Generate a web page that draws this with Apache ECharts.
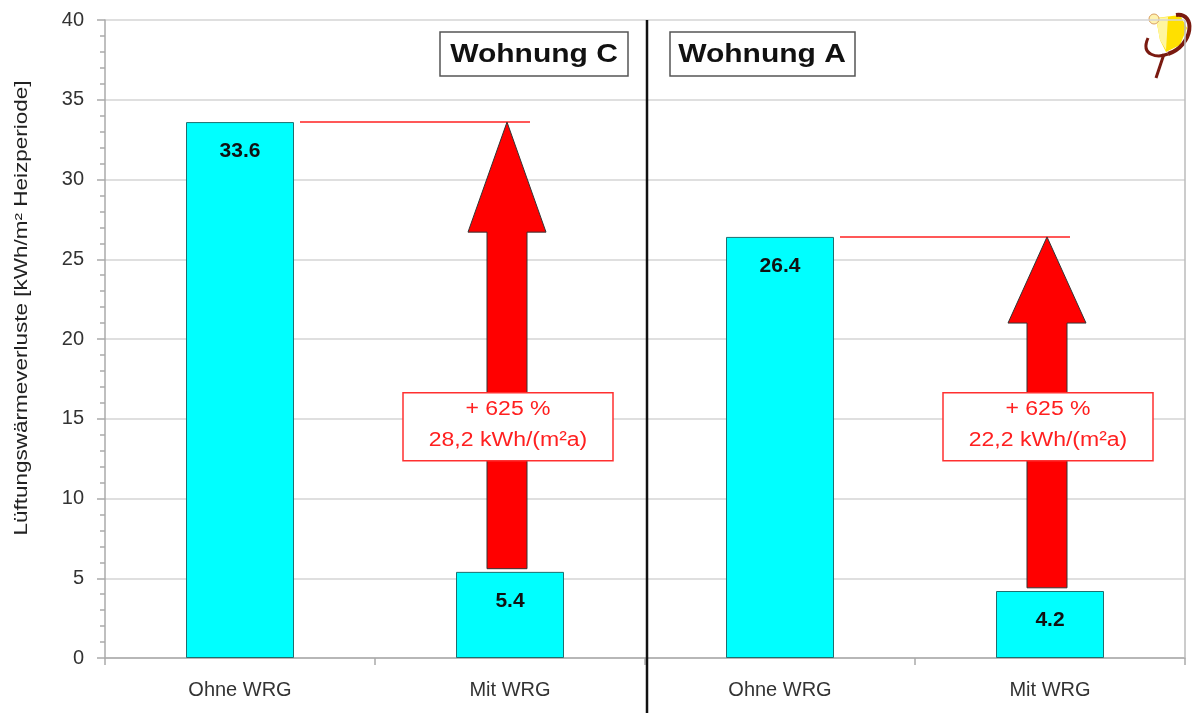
<!DOCTYPE html>
<html>
<head>
<meta charset="utf-8">
<script src="https://cdn.jsdelivr.net/npm/echarts@6/dist/echarts.min.js"></script>
<style>
  html, body { margin: 0; padding: 0; background: #fff; }
  #main { width: 1193px; height: 713px; }
</style>
</head>
<body>
<div id="main"></div>
<script>
// Daten
var categories = ['Ohne WRG', 'Mit WRG', 'Ohne WRG', 'Mit WRG'];
var losses = [33.6, 5.4, 26.4, 4.2];

// Pfeile (Kategorie, Fuss, Ansatz Spitze, Spitze)
var arrowCat = [1, 3];
var arrowBottom = [5.6, 4.4];
var arrowHeadBase = [26.7, 21.0];
var arrowTip = [33.6, 26.4];

// rote Linien: von Balken (ohne WRG) zum Pfeil
var refFrom = [0, 2];
var refTo = [1, 3];
var refLevel = [33.6, 26.4];

// Beschriftung der Pfeile
var deltaPct = ['+ 625 %', '+ 625 %'];
var deltaAbs = ['28,2 kWh/(m²a)', '22,2 kWh/(m²a)'];
var boxLevel = [14.5, 14.5];

var panelTitles = ['Wohnung C', 'Wohnung A'];
var yTicks = [0, 5, 10, 15, 20, 25, 30, 35, 40];

var myChart = echarts.init(document.getElementById('main'));

myChart.setOption({
    animation: false,
    backgroundColor: '#fff',
    grid: { left: 105, right: 8, top: 20, bottom: 55 },
    xAxis: {
        type: 'category',
        data: categories,
        axisLine: { lineStyle: { color: '#aaa', width: 1.5 } },
        axisTick: { show: true, length: 7, lineStyle: { color: '#aaa', width: 1.5 } },
        axisLabel: { color: '#333', fontSize: 20, fontFamily: 'Liberation Sans', margin: 22 }
    },
    yAxis: {
        type: 'value',
        min: yTicks[0],
        max: yTicks[yTicks.length - 1],
        interval: 5,
        axisLine: { show: true, lineStyle: { color: '#aaa', width: 1.5 } },
        axisTick: { show: true, length: 8, lineStyle: { color: '#aaa', width: 1.5 } },
        minorTick: { show: true, splitNumber: 5, length: 5, lineStyle: { color: '#aaa', width: 1.5 } },
        splitLine: { show: true, lineStyle: { color: '#d4d4d4', width: 1.5 } },
        axisLabel: { color: '#333', fontSize: 20, fontFamily: 'Liberation Sans', margin: 21 }
    },
    series: [
        {
            type: 'bar',
            data: losses,
            barWidth: '40%',
            itemStyle: { color: '#00ffff', borderColor: '#1f6f6f', borderWidth: 1 },
            label: {
                show: true,
                position: 'insideTop',
                distance: 19,
                color: '#111',
                fontSize: 21,
                fontWeight: 'bold',
                fontFamily: 'Liberation Sans',
                formatter: function (p) { return p.value.toFixed(1); }
            },
            z: 2
        },
        {
            // rote Bezugslinien
            type: 'custom',
            data: refFrom.map(function (c, i) { return [c, refTo[i], refLevel[i]]; }),
            renderItem: function (params, api) {
                var a = api.coord([api.value(0), api.value(2)]);
                var b = api.coord([api.value(1), api.value(2)]);
                return {
                    type: 'line',
                    shape: { x1: a[0] + 60, y1: a[1], x2: b[0] + 20, y2: b[1] },
                    style: { stroke: '#ff2020', lineWidth: 1.5 }
                };
            },
            z: 3
        },
        {
            // Pfeile
            type: 'custom',
            data: arrowCat.map(function (c, i) { return [c, arrowBottom[i], arrowHeadBase[i], arrowTip[i]]; }),
            renderItem: function (params, api) {
                var bot = api.coord([api.value(0), api.value(1)]);
                var hb = api.coord([api.value(0), api.value(2)]);
                var tip = api.coord([api.value(0), api.value(3)]);
                var cx = bot[0] - 3, sw = 20, hw = 39;
                return {
                    type: 'polygon',
                    shape: {
                        points: [
                            [cx - sw, bot[1]], [cx + sw, bot[1]], [cx + sw, hb[1]],
                            [cx + hw, hb[1]], [cx, tip[1]], [cx - hw, hb[1]],
                            [cx - sw, hb[1]]
                        ]
                    },
                    style: { fill: '#ff0000', stroke: '#333', lineWidth: 1 }
                };
            },
            z: 4
        },
        {
            // Textkästen
            type: 'custom',
            data: arrowCat.map(function (c, i) { return [c, boxLevel[i]]; }),
            renderItem: function (params, api) {
                var p = api.coord([api.value(0), api.value(1)]);
                var i = params.dataIndex;
                var w = 210, h = 68;
                return {
                    type: 'group',
                    children: [
                        {
                            type: 'rect',
                            shape: { x: p[0] - w / 2 - 2, y: p[1] - h / 2, width: w, height: h },
                            style: { fill: '#fff', stroke: '#ff3030', lineWidth: 1.5 }
                        },
                        {
                            type: 'text',
                            x: p[0] - 2, y: p[1] - 17, scaleX: 1.15,
                            style: {
                                text: deltaPct[i],
                                fill: '#ff2020', font: '20px "Liberation Sans"',
                                align: 'center', verticalAlign: 'middle'
                            }
                        },
                        {
                            type: 'text',
                            x: p[0] - 2, y: p[1] + 14, scaleX: 1.15,
                            style: {
                                text: deltaAbs[i],
                                fill: '#ff2020', font: '20px "Liberation Sans"',
                                align: 'center', verticalAlign: 'middle'
                            }
                        }
                    ]
                };
            },
            z: 5
        }
    ],
    graphic: [
        // Achsentitel
        {
            type: 'text',
            x: 22, y: 308, rotation: Math.PI / 2, scaleX: 1.25,
            style: {
                text: 'Lüftungswärmeverluste [kWh/m² Heizperiode]',
                fill: '#222', font: '18px "Liberation Sans"',
                align: 'center', verticalAlign: 'middle'
            }
        },
        // Trennlinie
        {
            type: 'line',
            shape: { x1: 647, y1: 20, x2: 647, y2: 713 },
            style: { stroke: '#111', lineWidth: 2.5 },
            z: 10
        },
        // rechter Rand
        {
            type: 'line',
            shape: { x1: 1185, y1: 20, x2: 1185, y2: 658 },
            style: { stroke: '#bbb', lineWidth: 1.5 },
            z: 1
        },
        // Panel-Titel
        {
            type: 'group', x: 440, y: 32, z: 10,
            children: [
                { type: 'rect', shape: { x: 0, y: 0, width: 188, height: 44 }, style: { fill: '#fff', stroke: '#555', lineWidth: 1.5 } },
                { type: 'text', x: 94, y: 23, scaleX: 1.2, style: { text: panelTitles[0], fill: '#111', font: 'bold 25px "Liberation Sans"', align: 'center', verticalAlign: 'middle' } }
            ]
        },
        {
            type: 'group', x: 670, y: 32, z: 10,
            children: [
                { type: 'rect', shape: { x: 0, y: 0, width: 185, height: 44 }, style: { fill: '#fff', stroke: '#555', lineWidth: 1.5 } },
                { type: 'text', x: 92, y: 23, scaleX: 1.2, style: { text: panelTitles[1], fill: '#111', font: 'bold 25px "Liberation Sans"', align: 'center', verticalAlign: 'middle' } }
            ]
        },
        // Logo
        {
            type: 'group', x: 0, y: 0, z: 20,
            children: [
                { type: 'rect', shape: { x: 1143, y: 0, width: 50, height: 78 }, style: { fill: '#fff' } },
                { type: 'polygon', shape: { points: [[1156, 18], [1180, 15], [1187, 28], [1180, 45], [1166, 52], [1160, 40]] }, style: { fill: '#ffe000' } },
                { type: 'polygon', shape: { points: [[1156, 18], [1168, 17], [1166, 50], [1160, 40]] }, style: { fill: '#fff6a0' } },
                { type: 'circle', shape: { cx: 1154, cy: 19, r: 5 }, style: { fill: '#fff3b0', stroke: '#d9a060', lineWidth: 1 } },
                { type: 'bezierCurve', shape: { x1: 1148, y1: 38, x2: 1168, y2: 54, cpx1: 1140, cpy1: 56, cpx2: 1158, cpy2: 58 }, style: { stroke: '#7a1a10', lineWidth: 3, fill: null } },
                { type: 'bezierCurve', shape: { x1: 1176, y1: 15, x2: 1168, y2: 54, cpx1: 1196, cpy1: 12, cpx2: 1194, cpy2: 45 }, style: { stroke: '#7a1a10', lineWidth: 4, fill: null } },
                { type: 'line', shape: { x1: 1164, y1: 54, x2: 1156, y2: 78 }, style: { stroke: '#7a1a10', lineWidth: 3 } }
            ]
        }
    ]
});
</script>
</body>
</html>
